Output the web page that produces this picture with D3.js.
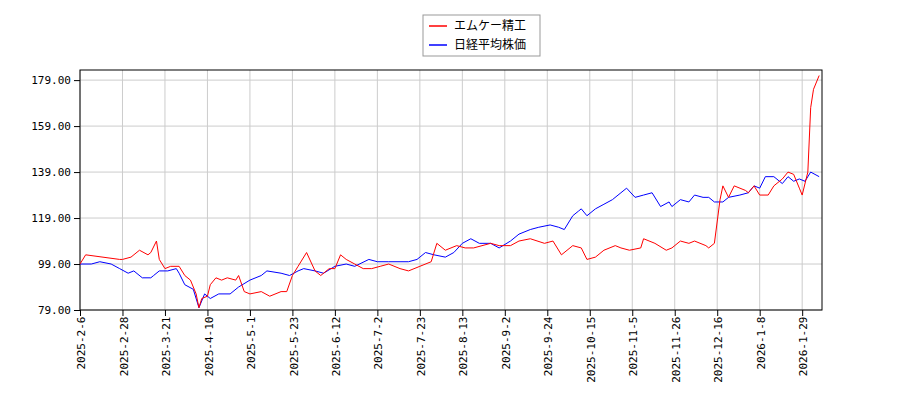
<!DOCTYPE html><html><head><meta charset="utf-8"><script src="https://cdn.jsdelivr.net/npm/d3@7"></script>
<style>body{margin:0;background:#fff}</style></head><body><svg id="c" width="900" height="400"></svg>
<script>
const tickLabels=["2025-2-6","2025-2-28","2025-3-21","2025-4-10","2025-5-1","2025-5-23","2025-6-12","2025-7-2","2025-7-23","2025-8-13","2025-9-2","2025-9-24","2025-10-15","2025-11-5","2025-11-26","2025-12-16","2026-1-8","2026-1-29"];
const yTicks=[79,99,119,139,159,179];
const redDays=[0,2,14,15,18,21,24,25,27,28,30,32,35,37,39,41,42,43,45,46,48,50,52,55,56,58,60,64,67,71,73,75,77,80,83,85,88,90,92,94,97,100,103,106,109,113,116,120,124,126,129,133,136,139,145,148,152,155,159,164,167,170,174,177,179,182,185,189,191,194,198,199,203,207,209,212,215,217,221,222,224,226,227,229,231,235,236,238,240,243,245,248,250,252,254,255,257,258,259,261];
const redVals=[99,103,101,101,102,105,103,104,109,101,97,98,98,94,92,86,80,84,85,90,93,92,93,92,94,87,86,87,85,87,87,94,98,104,96,94,97,97,103,101,99,97,97,98,99,97,96,98,100,108,105,107,106,106,108,107,107,109,110,108,109,103,107,106,101,102,105,107,106,105,106,110,108,105,106,109,108,109,107,106,108,127,133,128,133,131,130,133,129,129,133,136,139,138,132,129,139,167,175,181];
const blueDays=[0,4,7,11,14,17,19,22,25,26,28,31,34,35,37,40,42,44,46,49,53,56,60,64,66,71,74,77,79,83,86,90,94,97,102,105,109,113,116,119,122,125,129,132,135,138,141,145,148,152,155,159,162,166,169,171,174,176,177,179,182,185,188,191,193,196,199,202,205,208,209,212,215,217,220,222,224,227,229,233,236,238,240,242,245,248,250,252,254,256,258,261];
const blueVals=[99,99,100,99,97,95,96,93,93,94,96,96,97,95,90,88,80,86,84,86,86,89,92,94,96,95,94,96,97,96,95,98,99,98,101,100,100,100,100,101,104,103,102,104,108,110,108,108,106,109,112,114,115,116,115,114,120,122,123,120,123,125,127,130,132,128,129,130,124,126,124,127,126,129,128,128,126,126,128,129,130,133,132,137,137,134,137,135,136,135,139,137];
const names=["エムケー精工","日経平均株価"];
const svg=d3.select("#c");
const L=80,R=822,T=70,B=310;
const x=d3.scaleLinear().domain([0,262]).range([L,R]);
const y=d3.scaleLinear().domain([79,183.4]).range([B,T]);
const g=svg.append("g");
yTicks.forEach(t=>g.append("line").attr("x1",L).attr("x2",R).attr("y1",y(t)).attr("y2",y(t)).attr("stroke","#ccc"));
tickLabels.forEach((l,i)=>g.append("line").attr("x1",x(i*15)).attr("x2",x(i*15)).attr("y1",T).attr("y2",B).attr("stroke","#ccc"));
svg.append("rect").attr("x",L).attr("y",T).attr("width",R-L).attr("height",B-T).attr("fill","none").attr("stroke","#000");
const ya=svg.append("g").attr("transform",`translate(${L},0)`).call(d3.axisLeft(y).tickValues(yTicks).tickFormat(d3.format(".2f")).tickSizeOuter(0));
ya.select(".domain").remove();
ya.selectAll("text").attr("font-family","DejaVu Sans Mono").attr("font-size",11).attr("fill","#000");
const xa=svg.append("g").attr("transform",`translate(0,${B})`).call(d3.axisBottom(x).tickValues(tickLabels.map((_,i)=>i*15)).tickFormat((d,i)=>tickLabels[i]).tickSizeOuter(0));
xa.select(".domain").remove();
xa.selectAll("text").attr("font-family","DejaVu Sans Mono").attr("font-size",11).attr("fill","#000").attr("text-anchor","end").attr("transform","rotate(-90)").attr("dx","-0.6em").attr("dy","-0.4em");
const line=d3.line().x(d=>x(d[0])).y(d=>y(d[1]));
svg.append("path").attr("d",line(blueDays.map((d,i)=>[d,blueVals[i]]))).attr("fill","none").attr("stroke","#0000ff").attr("stroke-width",1);
svg.append("path").attr("d",line(redDays.map((d,i)=>[d,redVals[i]]))).attr("fill","none").attr("stroke","#ff0000").attr("stroke-width",1);
const lg=svg.append("g");
lg.append("rect").attr("x",423).attr("y",15).attr("width",117).attr("height",41).attr("fill","#fff").attr("stroke","#999");
["#ff0000","#0000ff"].forEach((c,i)=>{
 lg.append("line").attr("x1",429).attr("x2",447).attr("y1",26+i*19).attr("y2",26+i*19).attr("stroke",c).attr("stroke-width",1.5);
 lg.append("text").attr("x",454).attr("y",30+i*19).text(names[i]).attr("font-family","Noto Sans CJK JP").attr("font-size",12);
});
</script></body></html>
